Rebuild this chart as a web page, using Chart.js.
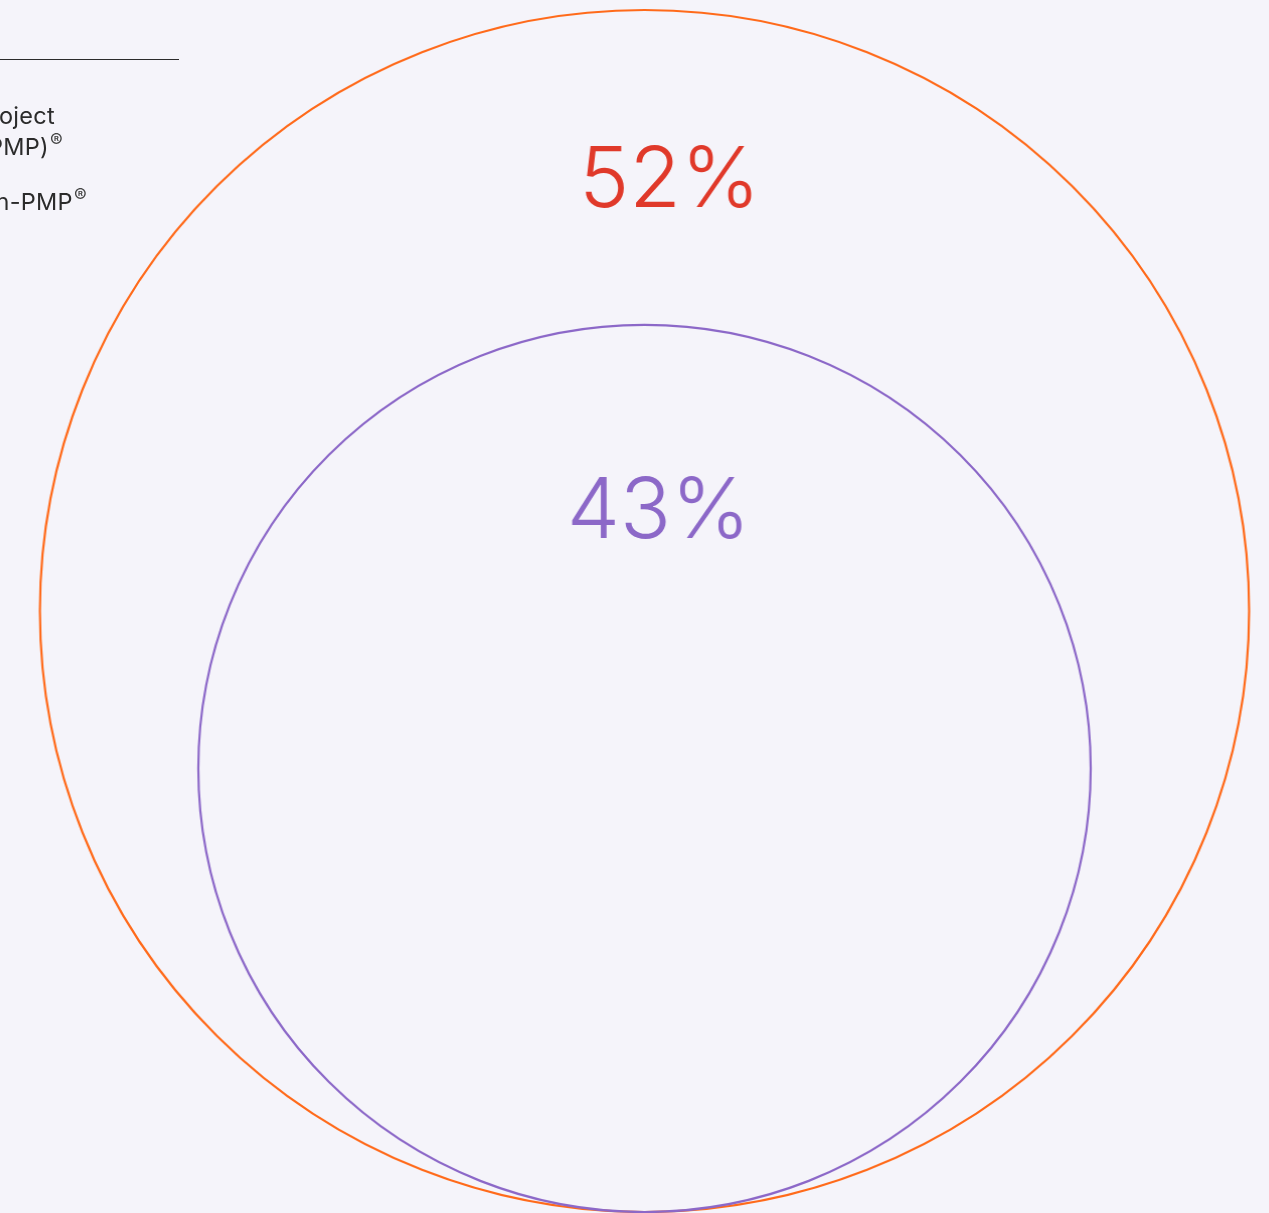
<!DOCTYPE html>
<html>
<head>
<meta charset="utf-8">
<script src="https://cdn.jsdelivr.net/npm/chart.js@4/dist/chart.umd.min.js"></script>
<style>
  html, body { margin: 0; padding: 0; background: #f5f4fa; overflow: hidden; }
  #wrap { position: relative; width: 1269px; height: 1213px; overflow: hidden; }
  /* the source picture is a touch wider than tall */
  #chart { position: absolute; left: 0; top: 0; transform-origin: 644.5px 50%; transform: scaleX(1.006); }
  .rule { position: absolute; left: 0; top: 59px; width: 179px; height: 0; border-top: 1.5px solid #2b2b2b; }
  .legend-line {
    position: absolute; font-family: Inter, 'Noto Sans', sans-serif; font-size: 23.5px;
    line-height: 24px; letter-spacing: 0.3px; color: #2b2b2b; text-align: right; white-space: nowrap;
  }
  .reg { display: inline-block; font-size: 19px; position: relative; top: -8px; margin-left: 1px; color: #444; }
</style>
</head>
<body>
<div id="wrap">
  <canvas id="chart" width="1269" height="1213"></canvas>
  <div class="rule"></div>
  <div class="legend-line" style="right: 1214px; top: 104px;">Holders of Project</div>
  <div class="legend-line" style="right: 1206px; top: 135px;">Management Professional (PMP)<span class="reg">®</span></div>
  <div class="legend-line" style="right: 1182px; top: 190px;">Non-PMP<span class="reg">®</span></div>
</div>
<script>
// nested circles: share of respondents, outer = PMP, inner = non-PMP
const labels = ['52%', '43%'];
const shares = [52, 43];
// circle size relative to the outer circle
const circleSize = [1, 0.738];

const CIRCLE_COLORS = ['#ff6a1a', '#8c68c8'];
const LABEL_COLORS = ['#e0392a', '#8c68c8'];
const LABEL_DX = [25, 14];
const LABEL_DY = [197, 213];

const W = 1269;
const H = 1213;
const PX_PER_UNIT = 601;
const CENTER_X = 644.5;
const BASE_Y = 1212;

// circles sit on a common baseline, so each centre is one radius above it
const points = circleSize.map(r => ({ x: 0, y: r }));

function radiusPx(ctx) {
  const s = ctx.chart.scales.x;
  const r = circleSize[ctx.dataIndex];
  return s.getPixelForValue(r) - s.getPixelForValue(0);
}

const circleLabels = {
  id: 'circleLabels',
  afterDatasetsDraw(chart) {
    const meta = chart.getDatasetMeta(0);
    const ctx = chart.ctx;
    ctx.save();
    ctx.font = '300 84px Inter, "Noto Sans", sans-serif';
    ctx.textAlign = 'center';
    ctx.textBaseline = 'alphabetic';
    meta.data.forEach((el, i) => {
      const r = el.options.radius;
      ctx.fillStyle = LABEL_COLORS[i];
      ctx.fillText(labels[i], el.x + LABEL_DX[i], el.y - r + LABEL_DY[i]);
    });
    ctx.restore();
  }
};

new Chart(document.getElementById('chart'), {
  type: 'scatter',
  data: {
    datasets: [{
      data: points,
      pointRadius: radiusPx,
      pointHoverRadius: radiusPx,
      pointBackgroundColor: 'rgba(0,0,0,0)',
      pointBorderColor: CIRCLE_COLORS,
      pointBorderWidth: 2.2,
      clip: false
    }]
  },
  options: {
    responsive: false,
    animation: false,
    events: [],
    layout: { padding: 0 },
    plugins: { legend: { display: false }, tooltip: { enabled: false } },
    scales: {
      x: { type: 'linear', display: false, min: -CENTER_X / PX_PER_UNIT, max: (W - CENTER_X) / PX_PER_UNIT },
      y: { type: 'linear', display: false, min: -(H - BASE_Y) / PX_PER_UNIT, max: BASE_Y / PX_PER_UNIT }
    }
  },
  plugins: [circleLabels]
});
</script>
</body>
</html>
